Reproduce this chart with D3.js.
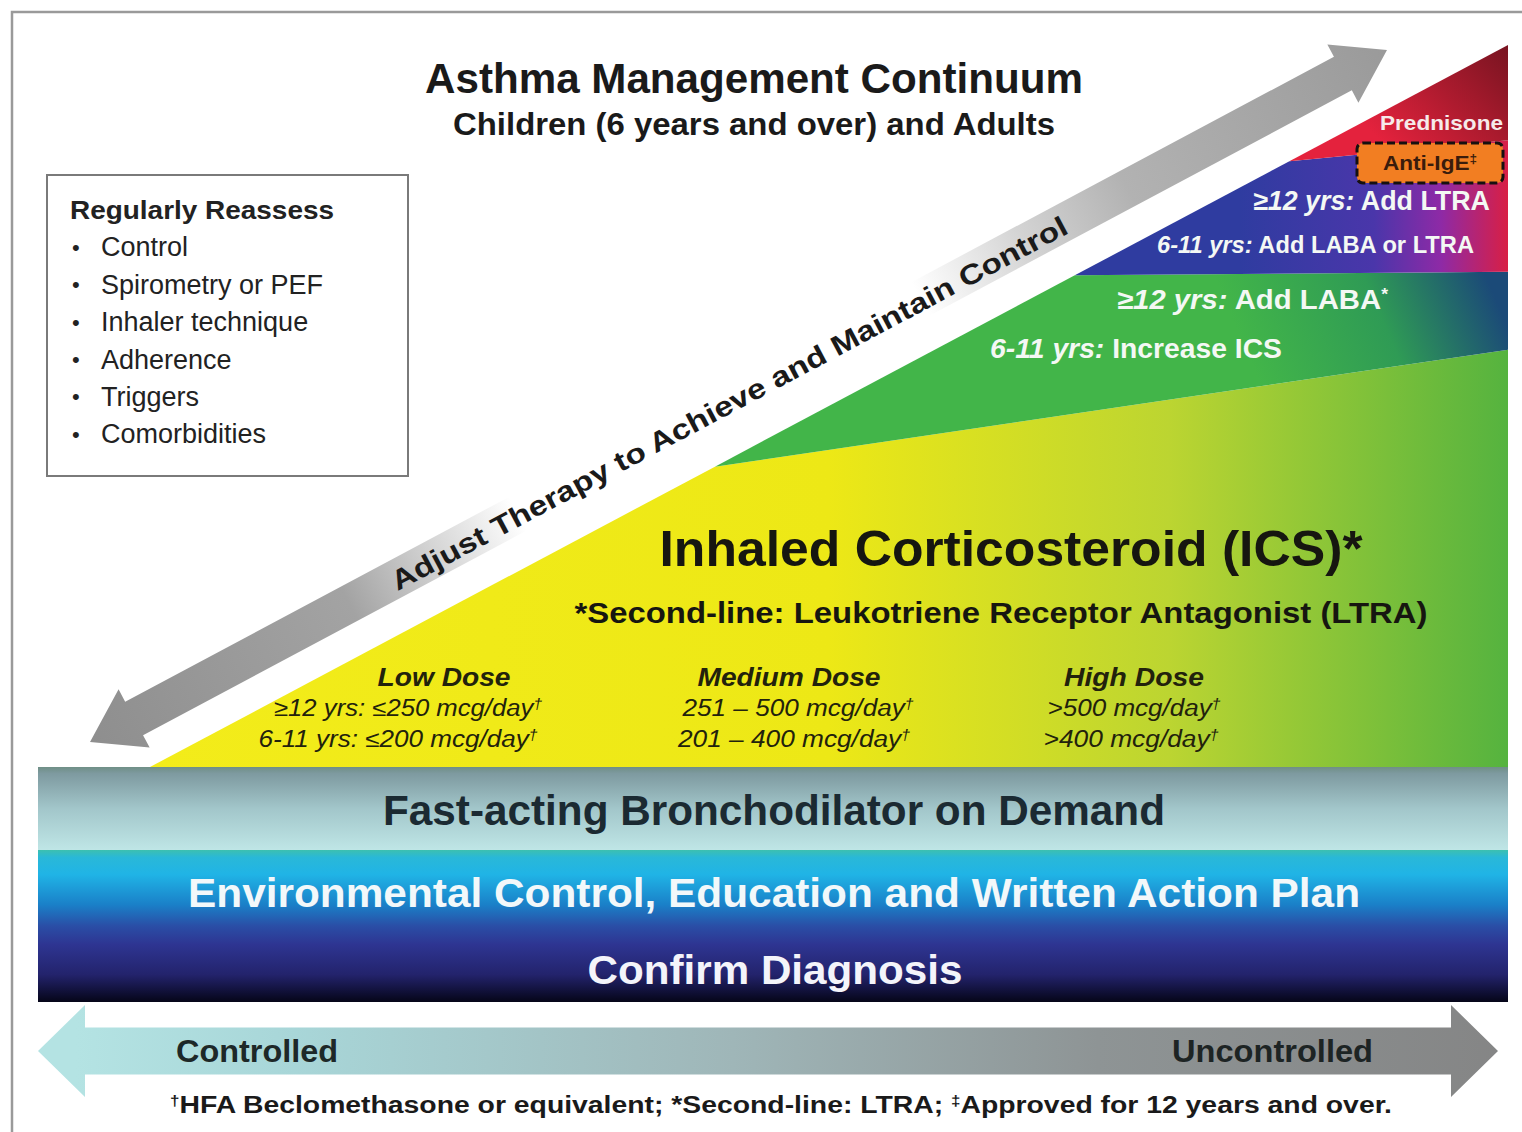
<!DOCTYPE html>
<meta charset="utf-8">
<body style="margin:0;background:#fff">
<script src="https://d3js.org/d3.v7.min.js"></script>
<script>

const W = 1522, H = 1132;

// text content of the chart
const title = "Asthma Management Continuum";
const subtitle = "Children (6 years and over) and Adults";
const reassessTitle = "Regularly Reassess";
const reassessItems = ["Control", "Spirometry or PEF", "Inhaler technique", "Adherence", "Triggers", "Comorbidities"];
const arrowLabel = "Adjust Therapy to Achieve and Maintain Control";
const icsTitle = "Inhaled Corticosteroid (ICS)*";
const icsNote = "*Second-line: Leukotriene Receptor Antagonist (LTRA)";
const doseLevels = ["Low Dose", "Medium Dose", "High Dose"];
const doseAdult = ["≥12 yrs: ≤250 mcg/day", "251 – 500 mcg/day", ">500 mcg/day"];
const doseChild = ["6-11 yrs: ≤200 mcg/day", "201 – 400 mcg/day", ">400 mcg/day"];
const stepAges = ["6-11 yrs:", "≥12 yrs:", "6-11 yrs:", "≥12 yrs:"];
const stepActions = [" Increase ICS", " Add LABA", " Add LABA or LTRA", " Add LTRA"];
const topSteps = ["Anti-IgE", "Prednisone"];
const foundation = ["Fast-acting Bronchodilator on Demand",
                    "Environmental Control, Education and Written Action Plan",
                    "Confirm Diagnosis"];
const controlEnds = ["Controlled", "Uncontrolled"];
const footnote = [{t: "†", sup: true}, "HFA Beclomethasone or equivalent; *Second-line: LTRA; ",
                  {t: "‡", sup: true}, "Approved for 12 years and over."];

const svg = d3.select("body").append("svg")
    .attr("width", W)
    .attr("height", H)
    .style("font-family", "'Liberation Sans', Arial, sans-serif");
const defs = svg.append("defs");

function grad(id, x1, y1, x2, y2, stops) {
  const g = defs.append("linearGradient").attr("id", id)
      .attr("gradientUnits", "userSpaceOnUse")
      .attr("x1", x1).attr("y1", y1).attr("x2", x2).attr("y2", y2);
  g.selectAll("stop").data(stops).join("stop")
      .attr("offset", d => d[0])
      .attr("stop-color", d => d[1]);
}

function label(g, x, y, parts, o) {
  const t = g.append("text")
      .attr("x", x).attr("y", y).attr("dy", "0.35em")
      .attr("text-anchor", o.anchor || "middle")
      .attr("font-size", o.size)
      .attr("font-weight", o.weight || "bold")
      .attr("fill", o.fill || "#1a1a1a");
  if (o.italic) t.attr("font-style", "italic");
  if (o.len) t.attr("textLength", o.len).attr("lengthAdjust", "spacingAndGlyphs");
  [].concat(parts).forEach(p => {
    if (typeof p === "string") { t.append("tspan").text(p); return; }
    const s = t.append("tspan").text(p.t);
    if (p.i) s.attr("font-style", "italic");
    if (p.sup) s.attr("font-size", o.size * 0.6).attr("baseline-shift", "super");
  });
  return t;
}

// outer frame
svg.append("rect")
    .attr("x", 12).attr("y", 12).attr("width", W).attr("height", H)
    .attr("fill", "none").attr("stroke", "#9a9a9a").attr("stroke-width", 2.5);

// triangle in normalised coordinates: t along the continuum, h up the right edge
const x = d3.scaleLinear().domain([0, 1]).range([150, 1508]);
const y = d3.scaleLinear().domain([0, 1]).range([767, 45]);
const hyp = t => [x(t), y(t)];
const edge = h => [x(1), y(h)];

grad("gYellow", 150, 0, 1508, 0, [[0, "#f3ec1a"], [0.5, "#ede816"], [0.75, "#bcd531"], [1, "#55b33f"]]);
grad("gGreen", 1250, 360, 1480, 262, [[0, "#42b549"], [0.55, "#2f9b55"], [1, "#1b4a78"]]);
grad("gBlue", 1240, 0, 1508, 0, [[0, "#2f3ca0"], [0.5, "#4a36aa"], [0.75, "#8e2aa6"], [1, "#d81f45"]]);
grad("gRed", 1400, 160, 1508, 50, [[0, "#e4223d"], [1, "#7a1421"]]);

const layers = [
  {fill: "gYellow", pts: [hyp(0), hyp(0.416), edge(0.578), edge(0)]},
  {fill: "gGreen",  pts: [hyp(0.416), hyp(0.681), edge(0.686), edge(0.578)]},
  {fill: "gBlue",   pts: [hyp(0.681), hyp(0.839), edge(0.868), edge(0.686)]},
  {fill: "gRed",    pts: [hyp(0.839), hyp(1), edge(0.868)]}
];
svg.append("g").selectAll("path").data(layers).join("path")
    .attr("d", d => d3.line()(d.pts) + "Z")
    .attr("fill", d => `url(#${d.fill})`);

// titles
label(svg, 754, 78, title, {size: 42, len: 658});
label(svg, 754, 124, subtitle, {size: 32, len: 602});

// reassess box
svg.append("rect")
    .attr("x", 47).attr("y", 175).attr("width", 361).attr("height", 301)
    .attr("fill", "#fff").attr("stroke", "#7a7a7a").attr("stroke-width", 2);
label(svg, 70, 210, reassessTitle, {size: 26, len: 264, anchor: "start", fill: "#222"});
const items = svg.append("g");
reassessItems.forEach((d, i) => {
  label(items, 72, 247 + i * 37.4, "•", {size: 22, anchor: "start", weight: "normal", fill: "#222"});
  label(items, 101, 247 + i * 37.4, d, {size: 27, anchor: "start", weight: "normal", fill: "#222"});
});

// double-headed arrow path along the x axis
function arrowPath(len, sw, hw, hl) {
  return d3.line()([[0, 0], [hl, -hw / 2], [hl, -sw / 2], [len - hl, -sw / 2], [len - hl, -hw / 2],
    [len, 0], [len - hl, hw / 2], [len - hl, sw / 2], [hl, sw / 2], [hl, hw / 2]]) + "Z";
}

// diagonal therapy arrow
const a0 = [90, 742], a1 = [1387, 50];
const aLen = Math.hypot(a1[0] - a0[0], a1[1] - a0[1]);
const aAng = Math.atan2(a1[1] - a0[1], a1[0] - a0[0]) * 180 / Math.PI;
grad("gDiag", 0, 0, aLen, 0, [[0, "#8e8e8e"], [0.2, "#a3a3a3"], [0.27, "#d6d6d6"], [0.33, "#ffffff"],
  [0.64, "#ffffff"], [0.72, "#d4d4d4"], [0.8, "#b2b2b2"], [1, "#9a9a9a"]]);
const diag = svg.append("g").attr("transform", `translate(${a0}) rotate(${aAng})`);
diag.append("path").attr("d", arrowPath(aLen, 38, 66, 50)).attr("fill", "url(#gDiag)");
label(diag, aLen * 0.492, 2, arrowLabel, {size: 28, len: 762});

// step labels in the triangle
const stepG = svg.append("g");
const stepPos = [[990, 348, 28, 292], [1117, 300, 27, 271], [1157, 245, 23, 317], [1253, 201, 27, 237]];
stepAges.forEach((a, i) => {
  const [sx, sy, size, len] = stepPos[i];
  const parts = [{t: a, i: true}, stepActions[i]];
  if (i === 1) parts.push({t: "*", sup: true});
  label(stepG, sx, sy, parts, {size, len, anchor: "start", fill: "#f4f8f4"});
});
stepG.append("rect")
    .attr("x", 1357).attr("y", 143).attr("width", 146).attr("height", 40).attr("rx", 6)
    .attr("fill", "#f27e22").attr("stroke", "#161010").attr("stroke-width", 3)
    .attr("stroke-dasharray", "8,4");
label(stepG, 1430, 163, [topSteps[0], {t: "‡", sup: true}], {size: 20, len: 94, fill: "#3a1c0c"});
label(stepG, 1503, 123, topSteps[1], {size: 21, len: 123, anchor: "end", fill: "#f6eaea"});

// ICS text and dose columns
label(svg, 1011, 548, icsTitle, {size: 50, len: 703, fill: "#161610"});
label(svg, 1001, 613, icsNote, {size: 29, len: 853, fill: "#161610"});

const dose = d3.scalePoint().domain(doseLevels).range([444, 1134]);
const doseW = [[133, 268, 279], [183, 231, 232], [140, 173, 175]];
const doseShift = [[0, -36, -46], [0, 9, 5], [0, 0, -3]];
const doseG = svg.append("g");
doseLevels.forEach((d, i) => {
  const cx = dose(d);
  label(doseG, cx, 677, d, {size: 26, len: doseW[i][0], italic: true, fill: "#22220c"});
  label(doseG, cx + doseShift[i][1], 708, [doseAdult[i], {t: "†", sup: true}],
    {size: 23, len: doseW[i][1], italic: true, weight: "normal", fill: "#22220c"});
  label(doseG, cx + doseShift[i][2], 739, [doseChild[i], {t: "†", sup: true}],
    {size: 23, len: doseW[i][2], italic: true, weight: "normal", fill: "#22220c"});
});

// foundation bands
grad("gFast", 0, 767, 0, 850, [[0, "#6f8f86"], [0.08, "#7e9aa0"], [0.5, "#a2c6ca"], [1, "#bfe6e6"]]);
grad("gBase", 0, 850, 0, 1002, [[0, "#3cc0b0"], [0.05, "#29b8d8"], [0.16, "#20b4e6"], [0.36, "#1a80c8"],
  [0.5, "#2a4ea6"], [0.62, "#2e3592"], [0.82, "#23236c"], [1, "#050518"]]);
svg.append("rect").attr("x", 38).attr("y", 767).attr("width", 1470).attr("height", 83).attr("fill", "url(#gFast)");
svg.append("rect").attr("x", 38).attr("y", 850).attr("width", 1470).attr("height", 152).attr("fill", "url(#gBase)");
label(svg, 774, 810, foundation[0], {size: 42, len: 782, fill: "#1b2a32"});
label(svg, 774, 893, foundation[1], {size: 40, len: 1172, fill: "#f2f8fa"});
label(svg, 775, 970, foundation[2], {size: 41, len: 375, fill: "#f4f4fa"});

// control arrow
grad("gCtrl", 38, 0, 1498, 0, [[0, "#b4e3e3"], [0.15, "#a8d6d8"], [0.45, "#9fb6b8"], [0.7, "#8e9495"], [1, "#848484"]]);
const ctrl = svg.append("g").attr("transform", "translate(38,1051)");
ctrl.append("path").attr("d", arrowPath(1460, 47, 92, 47)).attr("fill", "url(#gCtrl)");
label(svg, 176, 1051, controlEnds[0], {size: 32, len: 162, anchor: "start", fill: "#1d2828"});
label(svg, 1373, 1051, controlEnds[1], {size: 32, len: 201, anchor: "end", fill: "#1d2424"});

// footnote
label(svg, 781, 1105, footnote, {size: 23, len: 1222, fill: "#1a1a1a"});

</script>
